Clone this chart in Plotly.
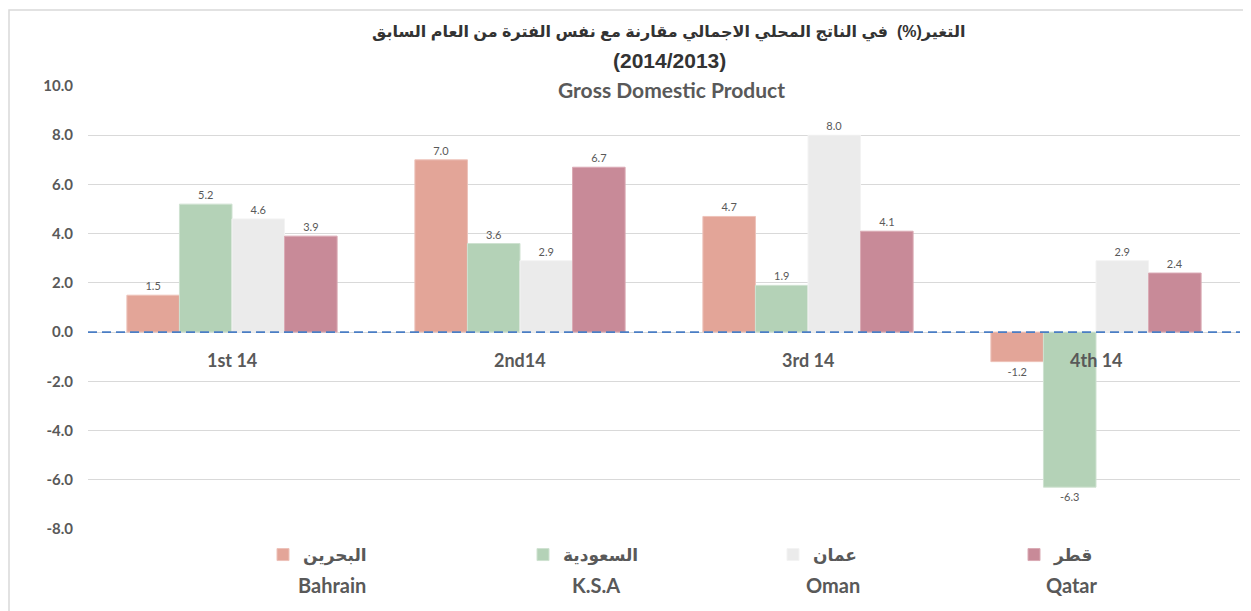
import plotly.graph_objects as go

categories = ["1st 14", "2nd14", "3rd 14", "4th 14"]
series_ar = ["البحرين", "السعودية", "عمان", "قطر"]
series_en = ["Bahrain", "K.S.A", "Oman", "Qatar"]
bahrain = [1.5, 7.0, 4.7, -1.2]
ksa = [5.2, 3.6, 1.9, -6.3]
oman = [4.6, 2.9, 8.0, 2.9]
qatar = [3.9, 6.7, 4.1, 2.4]
values = [bahrain, ksa, oman, qatar]
colors = ["#E3A598", "#B4D2B7", "#EBEBEB", "#C88A98"]
edge_colors = ["#EDC2B9", "#CFE2D1", "#F3F3F3", "#DAAAB4"]
tick_vals = [10, 8, 6, 4, 2, 0, -2, -4, -6, -8]

title_ar = "التغير(%)  في الناتج المحلي الاجمالي مقارنة مع نفس الفترة من العام السابق"
title_years = "(2014/2013)"
title_en = "Gross Domestic Product"

GREY = "#595959"
LATIN = "Lato, 'DejaVu Sans', sans-serif"
ARABIC = "'Liberation Sans', 'DejaVu Sans', sans-serif"

# page geometry (pixels); the page body has an 8px margin
OFF = 8
PAGE_W, PAGE_H = 1251, 611
W, H = PAGE_W - OFF, PAGE_H - OFF
PLOT_L, PLOT_R, PLOT_T, PLOT_B = 88, 1240, 86, 529  # in page coordinates
ML, MR, MT, MB = PLOT_L - OFF, PAGE_W - PLOT_R, PLOT_T - OFF, PAGE_H - PLOT_B
PW = PLOT_R - PLOT_L
PH = PLOT_B - PLOT_T

def px_x(x):
    return (x - PLOT_L) / PW

def px_y(y):
    return (PLOT_B - y) / PH

legend_names = ["legend", "legend2", "legend3", "legend4"]
legend_x_px = [263, 523, 773, 1014]
english_right_px = [368, 622, 862, 1100]

fig = go.Figure()
for i in range(4):
    fig.add_trace(go.Bar(
        x=categories, y=values[i], name=f"<b>{series_ar[i]}</b>",
        marker=dict(color=colors[i], line=dict(color=edge_colors[i], width=1)),
        text=[f"{v:.1f}" for v in values[i]], textposition="outside",
        textfont=dict(size=11, color=GREY, family=LATIN),
        cliponaxis=False, legend=legend_names[i], showlegend=True,
    ))

layout_legends = {}
for i, ln in enumerate(legend_names):
    layout_legends[ln] = dict(
        x=px_x(legend_x_px[i]), y=px_y(555), xanchor="left", yanchor="middle",
        orientation="h", bgcolor="rgba(0,0,0,0)", visible=True,
        font=dict(size=17, color=GREY, family=ARABIC),
    )

annotations = []
for c in categories:
    annotations.append(dict(x=c, y=0, xref="x", yref="y", text=f"<b>{c}</b>",
                            showarrow=False, yanchor="top", yshift=-15,
                            font=dict(size=18, color=GREY, family=LATIN)))
for i in range(4):
    annotations.append(dict(x=px_x(english_right_px[i]), y=px_y(585), xref="paper", yref="paper",
                            text=f"<b>{series_en[i]}</b>", showarrow=False,
                            xanchor="right", yanchor="middle",
                            font=dict(size=20, color=GREY, family=LATIN)))
annotations.append(dict(x=px_x(668), y=px_y(32), xref="paper", yref="paper",
                        text=f"<b>{title_ar}</b>", showarrow=False, xanchor="center", yanchor="middle",
                        font=dict(size=16, color="#333333", family=ARABIC)))
annotations.append(dict(x=px_x(669), y=px_y(61), xref="paper", yref="paper",
                        text=f"<b>{title_years}</b>", showarrow=False, xanchor="center", yanchor="middle",
                        font=dict(size=21, color="#333333", family=ARABIC)))
annotations.append(dict(x=px_x(671), y=px_y(90), xref="paper", yref="paper",
                        text=f"<b>{title_en}</b>", showarrow=False, xanchor="center", yanchor="middle",
                        font=dict(size=21, color=GREY, family=LATIN)))

shapes = [
    dict(type="line", xref="paper", yref="y", x0=0, x1=1, y0=0, y1=0,
         line=dict(color="#4A7DC4", width=1.8, dash="9px,5px"), layer="above"),
    # chart-area frame (top and left edges visible, the rest runs off the picture)
    dict(type="rect", xref="paper", yref="paper",
         x0=px_x(9), x1=px_x(1270), y0=px_y(640), y1=px_y(10),
         line=dict(color="#D9D9D9", width=1.5), layer="below"),
]

fig.update_layout(
    width=W, height=H,
    margin=dict(l=ML, r=MR, t=MT, b=MB),
    paper_bgcolor="white", plot_bgcolor="white",
    showlegend=True,
    barmode="group", bargap=0.27, bargroupgap=0,
    xaxis=dict(showticklabels=False, showgrid=False, zeroline=False, showline=False),
    yaxis=dict(range=[-8, 10], tickvals=tick_vals, ticktext=[f"<b>{v:.1f}</b>" for v in tick_vals],
               showgrid=True, gridcolor="#D9D9D9", gridwidth=1, zeroline=False, showline=False,
               tickfont=dict(size=15, color=GREY, family=LATIN), ticklabelstandoff=14),
    annotations=annotations, shapes=shapes,
    **layout_legends,
)

fig.write_html("out.html")
